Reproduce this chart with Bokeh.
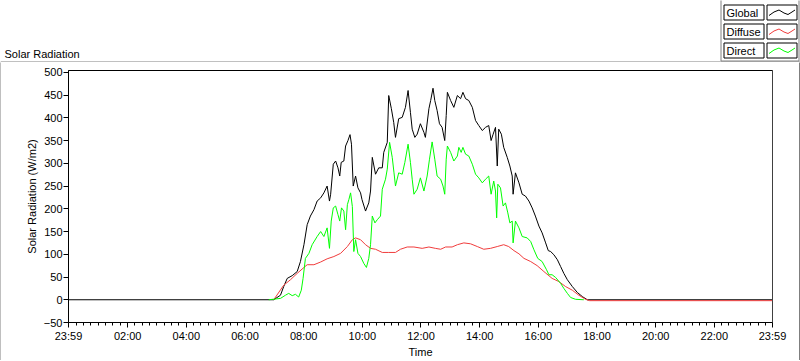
from bokeh.plotting import figure
from bokeh.models import Range1d, FixedTicker, CustomJSTickFormatter, Span, InlineStyleSheet
from bokeh.layouts import column, row
from bokeh.embed import file_html
from bokeh.resources import INLINE
from bokeh.core.properties import value

FONT = "Liberation Sans"

# ---- data (time in decimal hours, values in W/m2) ----
global_time = [-1/60, 6.98, 7.21, 7.32, 7.44, 7.61, 7.78, 7.89, 8.01, 8.12, 8.23, 8.35, 8.46, 8.58,
               8.69, 8.80, 8.88, 8.92, 9.01, 9.09, 9.17, 9.23, 9.28, 9.37, 9.43, 9.51, 9.58, 9.63,
               9.69, 9.77, 9.85, 9.94, 9.99, 10.11, 10.22, 10.28, 10.34, 10.45, 10.56, 10.68, 10.73,
               10.85, 10.90, 10.99, 11.07, 11.13, 11.24, 11.36, 11.47, 11.56, 11.64, 11.70, 11.79,
               11.87, 11.98, 12.10, 12.15, 12.27, 12.33, 12.41, 12.47, 12.55, 12.63, 12.72, 12.81,
               12.86, 12.90, 13.01, 13.12, 13.24, 13.35, 13.43, 13.52, 13.63, 13.75, 13.86, 13.97,
               14.09, 14.20, 14.31, 14.39, 14.46, 14.54, 14.60, 14.65, 14.74, 14.82, 14.94, 15.03,
               15.11, 15.14, 15.22, 15.34, 15.45, 15.56, 15.68, 15.79, 15.90, 16.02, 16.13, 16.25,
               16.34, 16.42, 16.53, 16.65, 16.76, 16.87, 16.99, 17.16, 17.33, 17.50, 17.67, 23 + 59/60]
global_wm2 = [0, 0, 10, 29, 47, 53, 62, 84, 121, 165, 184, 198, 217, 224,
              235, 250, 217, 232, 298, 305, 290, 272, 302, 305, 338, 350, 363, 342,
              250, 272, 246, 235, 220, 195, 213, 239, 313, 276, 290, 290, 324,
              346, 449, 420, 390, 357, 398, 401, 423, 460, 412, 375, 357,
              364, 387, 368, 357, 420, 438, 465, 438, 416, 387, 379, 350,
              405, 456, 438, 423, 449, 442, 456, 442, 438, 423, 394, 383,
              372, 379, 383, 350, 364, 379, 294, 375, 364, 335, 313, 294,
              272, 232, 279, 257, 232, 228, 217, 202, 184, 162, 147, 125,
              108, 106, 99, 88, 73, 58, 44, 29, 16, 7, 0, 0]

diffuse_time = [6.98, 7.32, 7.55, 7.78, 8.01, 8.12, 8.35, 8.58, 8.80, 9.03, 9.26, 9.49, 9.66, 9.77,
                9.94, 10.11, 10.28, 10.45, 10.68, 10.90, 11.13, 11.30, 11.53, 11.76, 12.04, 12.27,
                12.49, 12.67, 12.84, 13.06, 13.24, 13.46, 13.69, 13.92, 14.14, 14.37, 14.60, 14.82,
                14.99, 15.17, 15.34, 15.51, 15.74, 15.96, 16.19, 16.47, 16.70, 16.93, 17.16, 17.38,
                17.61, 17.75, 23 + 59/60]
diffuse_wm2 = [0, 32, 44, 58, 71, 77, 77, 83, 90, 95, 102, 117, 132, 136,
               132, 121, 113, 111, 104, 104, 104, 111, 116, 116, 113, 116,
               113, 111, 116, 116, 121, 125, 123, 117, 111, 113, 117, 121,
               117, 108, 101, 91, 84, 75, 62, 47, 40, 29, 21, 10,
               1, -2, -2]

direct_time = [6.81, 7.21, 7.38, 7.49, 7.61, 7.72, 7.83, 7.92, 7.98, 8.06, 8.18, 8.29, 8.46, 8.58,
               8.69, 8.80, 8.88, 8.94, 9.01, 9.09, 9.17, 9.23, 9.29, 9.37, 9.43, 9.49, 9.54, 9.60,
               9.66, 9.71, 9.77, 9.85, 9.94, 10.05, 10.14, 10.22, 10.28, 10.34, 10.43, 10.51, 10.62,
               10.68, 10.79, 10.85, 10.93, 11.02, 11.08, 11.13, 11.24, 11.36, 11.45, 11.56, 11.64,
               11.70, 11.76, 11.87, 11.98, 12.10, 12.21, 12.29, 12.38, 12.47, 12.55, 12.67, 12.75,
               12.81, 12.86, 12.90, 13.01, 13.12, 13.24, 13.29, 13.37, 13.43, 13.52, 13.63, 13.75,
               13.86, 13.97, 14.09, 14.20, 14.31, 14.39, 14.48, 14.54, 14.58, 14.62, 14.71, 14.80,
               14.88, 14.96, 15.03, 15.11, 15.14, 15.22, 15.34, 15.45, 15.62, 15.74, 15.85, 15.98,
               16.13, 16.28, 16.36, 16.47, 16.59, 16.76, 16.87, 16.99, 17.10, 17.27, 17.55]
direct_wm2 = [0, 3, 10, 14, 9, 12, 6, 21, 47, 91, 102, 121, 139, 150,
              139, 158, 113, 173, 202, 206, 187, 173, 202, 195, 154, 209, 220, 235,
              205, 106, 132, 102, 95, 80, 71, 91, 121, 184, 169, 176, 184,
              243, 265, 287, 346, 313, 279, 250, 279, 276, 302, 342, 302,
              265, 232, 243, 268, 239, 272, 309, 347, 309, 272, 265, 250,
              232, 309, 338, 324, 305, 316, 335, 324, 335, 320, 316, 298,
              276, 268, 257, 265, 272, 232, 261, 239, 180, 254, 246, 206,
              213, 191, 169, 173, 125, 173, 158, 139, 136, 128, 110, 91,
              84, 66, 55, 55, 49, 36, 25, 14, 5, 1, 0]

series_names = ["Global", "Diffuse", "Direct"]
series_colors = ["#000000", "#f03c3c", "#00ff00"]
y_ticks = [-50, 0, 50, 100, 150, 200, 250, 300, 350, 400, 450, 500]
x_ticks = [-1/60, 2, 4, 6, 8, 10, 12, 14, 16, 18, 20, 22, 23 + 59/60]
x_minor = [i * 0.25 for i in range(96)]

W = 800
TOP_H = 62
gray = "#808080"
crisp = InlineStyleSheet(css="svg path, svg line, svg polyline { shape-rendering: crispEdges; }")

# ---- top strip: title label + legend (drawn in pixel coordinates) ----
top = figure(width=W, height=TOP_H, x_range=Range1d(0, W), y_range=Range1d(TOP_H, 0),
             output_backend="svg", toolbar_location=None, min_border=0,
             x_axis_location=None, y_axis_location=None, outline_line_color=None)
top.grid.visible = False
top.text(x=[4], y=[53], text=["Solar Radiation"], text_font=value(FONT),
         text_font_size="11px", text_baseline="middle", text_color="black")

# panel top edge and legend frame
top.line([0, 800], [61.5, 61.5], line_color=gray, line_width=1)
top.line([720.5, 720.5], [-1, 60.5], line_color=gray, line_width=1)
top.line([720.5, 798.5], [60.5, 60.5], line_color=gray, line_width=1)
top.line([798.5, 798.5], [-1, 60.5], line_color=gray, line_width=1)

row_tops = [4.5, 23.5, 42.5]
box_h = 15
top.quad(left=[723.5] * 3, right=[763.5] * 3, top=row_tops, bottom=[t + box_h for t in row_tops],
         fill_color="white", line_color="black", line_width=1)
top.quad(left=[766.5] * 3, right=[796.5] * 3, top=row_tops, bottom=[t + box_h for t in row_tops],
         fill_color="white", line_color="black", line_width=1)
top.text(x=[726] * 3, y=[t + box_h / 2 for t in row_tops], text=series_names,
         text_font=value(FONT), text_font_size="11px", text_baseline="middle", text_color="black")
zig_dx = [2, 7, 12, 17, 21, 25, 28]
zig_dy = [10.5, 7, 5, 8, 9.5, 7, 5]
top.multi_line(xs=[[766.5 + d for d in zig_dx] for _ in row_tops],
               ys=[[t + d for d in zig_dy] for t in row_tops],
               line_color=series_colors, line_width=1)

# ---- main chart ----
p = figure(width=798, height=298, x_range=Range1d(-1/60, 23 + 59/60), y_range=Range1d(-50, 504),
           output_backend="svg", toolbar_location=None,
           min_border_left=67, min_border_right=27, min_border_top=8, min_border_bottom=38)
p.grid.visible = False
p.outline_line_color = "black"
p.background_fill_color = "white"
p.add_layout(Span(location=23 + 59/60, dimension="height", line_color=gray, line_width=1))

p.line(global_time, global_wm2, line_color=series_colors[0], line_width=1)
p.line(diffuse_time, diffuse_wm2, line_color=series_colors[1], line_width=1)
p.line(direct_time, direct_wm2, line_color=series_colors[2], line_width=1)

p.xaxis.ticker = FixedTicker(ticks=x_ticks, minor_ticks=x_minor)
p.xaxis.formatter = CustomJSTickFormatter(code="""
const m = Math.round(tick * 60);
const t = ((m % 1440) + 1440) % 1440;
const h = Math.floor(t / 60), mi = t % 60;
return (h < 10 ? '0' : '') + h + ':' + (mi < 10 ? '0' : '') + mi;
""")
p.xaxis.axis_label = "Time"
p.xaxis.major_tick_out = 5
p.xaxis.major_tick_in = 0
p.xaxis.minor_tick_out = 3
p.xaxis.minor_tick_in = 0
p.xaxis.major_label_standoff = 2
p.xaxis.axis_label_standoff = 1

p.yaxis.ticker = FixedTicker(ticks=y_ticks, minor_ticks=[])
p.yaxis.axis_label = "Solar Radiation (W/m2)"
p.yaxis.major_tick_out = 5
p.yaxis.major_tick_in = 0
p.yaxis.minor_tick_line_color = None
p.yaxis.major_label_standoff = 1
p.yaxis.axis_label_standoff = 3

for ax in p.axis:
    ax.axis_line_color = "black"
    ax.major_tick_line_color = "black"
    ax.major_label_text_font = FONT
    ax.major_label_text_font_size = "11px"
    ax.major_label_text_color = "black"
    ax.axis_label_text_font = FONT
    ax.axis_label_text_font_size = "11px"
    ax.axis_label_text_font_style = "normal"
    ax.axis_label_text_color = "black"
p.xaxis.minor_tick_line_color = "black"


# ---- 1px edge strips of the outer panel ----
def strip(w, h, color):
    s = figure(width=w, height=h, output_backend="svg", toolbar_location=None, min_border=0,
               x_axis_location=None, y_axis_location=None, outline_line_color=None)
    s.grid.visible = False
    s.border_fill_color = color
    s.background_fill_color = color
    return s


left_edge = strip(1, 298, gray)
right_edge = strip(1, 298, "#000000")
bottom_edge = strip(800, 1, "#000000")

for fig in (top, p, left_edge, right_edge, bottom_edge):
    if "frame_align" in fig.properties():
        fig.frame_align = False
    fig.stylesheets = [crisp]

layout = column(top, row(left_edge, p, right_edge, spacing=0), bottom_edge, spacing=0)
open("out.html", "w").write(file_html(layout, INLINE))
